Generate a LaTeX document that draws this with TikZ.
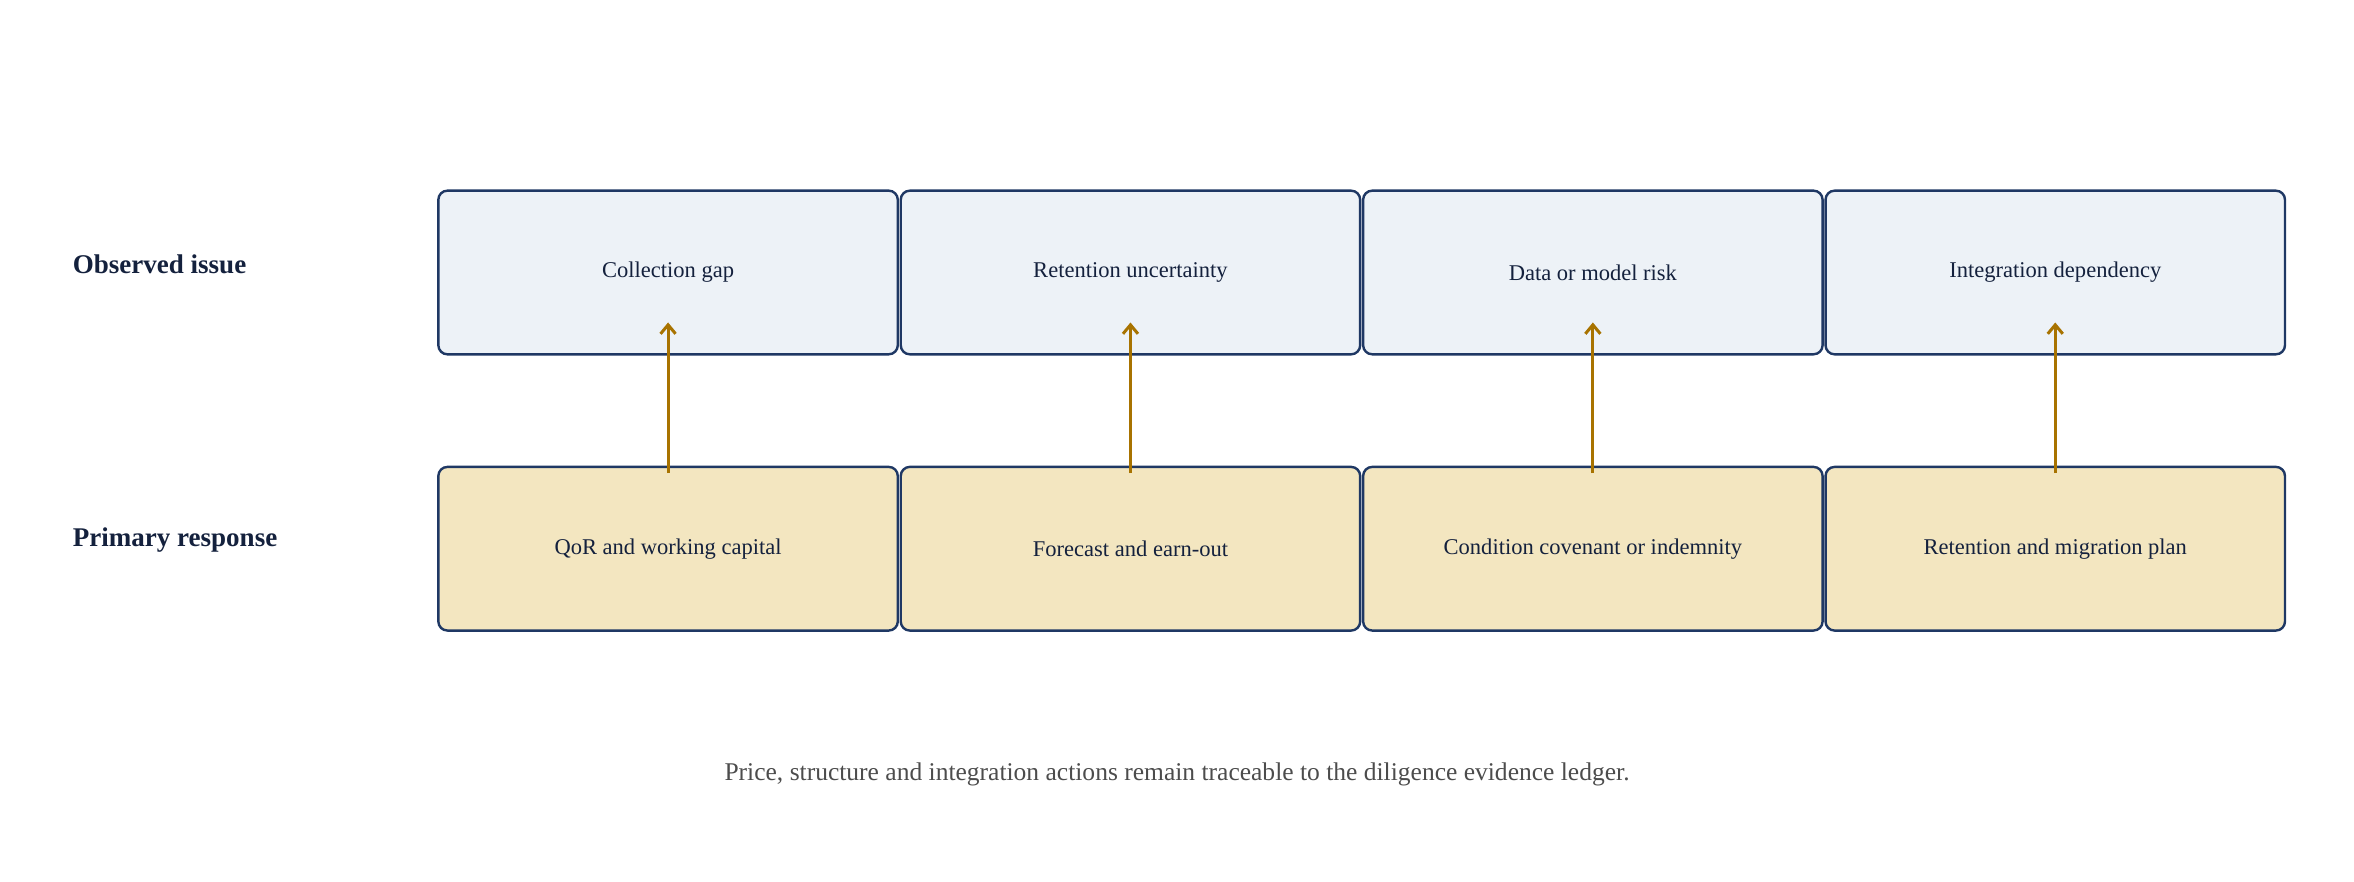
\documentclass[tikz,border=0pt]{standalone}
\usepackage{fontspec}
\setmainfont{Liberation Serif}
\usetikzlibrary{arrows.meta}
\begin{document}
\begin{tikzpicture}[x=1pt,y=-1pt,
  box/.style={draw=bordc,line width=1.6pt,rounded corners=6pt,minimum width=306pt,minimum height=109pt,inner sep=0pt,font=\fontsize{15}{18}\selectfont,text=txtc},
  top/.style={box,fill=topc},
  bot/.style={box,fill=botc},
  arr/.style={draw=arrc,line width=2pt,-{Straight Barb[length=6pt,width=10pt]}},
  lab/.style={anchor=west,font=\bfseries\fontsize{18}{21}\selectfont,text=txtc}]
\definecolor{bordc}{HTML}{1F3864}
\definecolor{topc}{HTML}{EDF2F7}
\definecolor{botc}{HTML}{F3E6C0}
\definecolor{arrc}{HTML}{A87300}
\definecolor{txtc}{HTML}{14213D}
\useasboundingbox (0,0) rectangle (1568,587);
\node[lab] (l1) at (45,176) {Observed issue};
\node[lab] (l2) at (45,360) {Primary response};
\node[top] (t1) at (445,181.5) {Collection gap};
\node[top] (t2) at (753,181.5) {Retention uncertainty};
\node[top] (t3) at (1061,181.5) {Data or model risk};
\node[top] (t4) at (1369,181.5) {Integration dependency};
\node[bot] (b1) at (445,365.5) {QoR and working capital};
\node[bot] (b2) at (753,365.5) {Forecast and earn-out};
\node[bot] (b3) at (1061,365.5) {Condition covenant or indemnity};
\node[bot] (b4) at (1369,365.5) {Retention and migration plan};
\foreach \i in {1,...,4}{
  \draw[arr] ([yshift=-5pt]b\i.north) -- ([yshift=22pt]t\i.south);
}
\node[font=\fontsize{17}{20}\selectfont,text=black!70] (cap) at (784,516) {Price, structure and integration actions remain traceable to the diligence evidence ledger.};
\end{tikzpicture}
\end{document}
